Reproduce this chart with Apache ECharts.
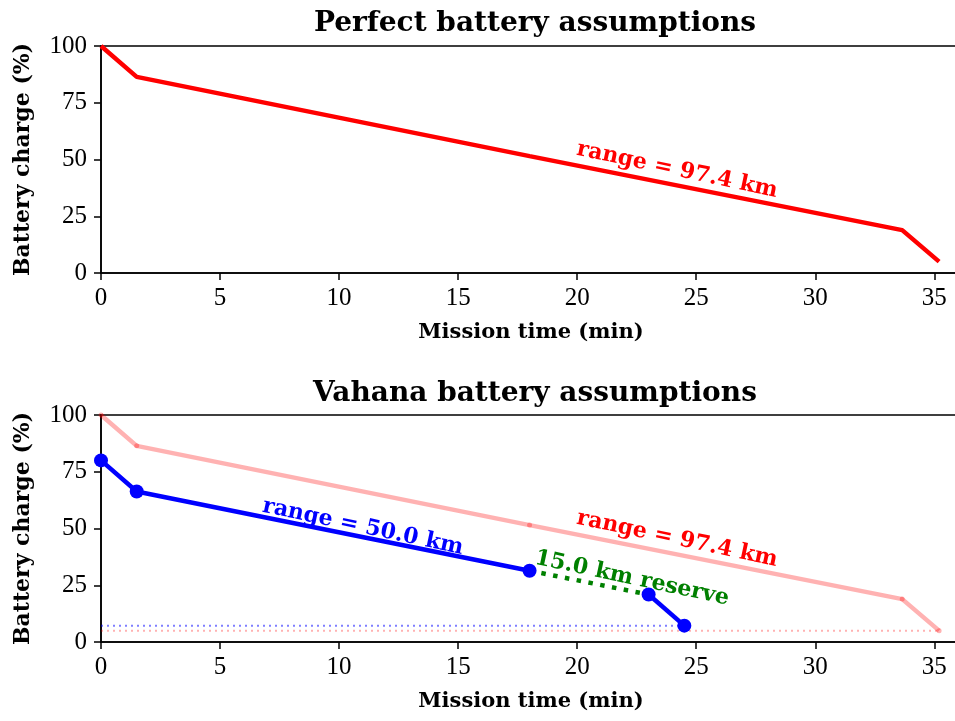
<!DOCTYPE html>
<html>
<head>
<meta charset="utf-8">
<script src="https://cdn.jsdelivr.net/npm/echarts@6/dist/echarts.min.js"></script>
<style>
  html, body { margin: 0; padding: 0; background: #fff; }
  #chart { width: 955px; height: 721px; }
</style>
</head>
<body>
<div id="chart"></div>
<script>
// Mission profile: time (min) vs battery charge (%)
const perfectTime   = [0, 1.5, 18.0, 33.65, 35.2];
const perfectCharge = [100, 86.4, 51.5, 18.9, 5.0];

const vahanaTime    = [0, 1.5, 18.0];
const vahanaCharge  = [80.0, 66.3, 31.4];
const reserveTime   = [18.0, 23.0];
const reserveCharge = [31.4, 20.9];
const landingTime   = [23.0, 24.5];
const landingCharge = [20.9, 7.2];

// Minimum-charge reference levels
const vahanaFloor  = 7.2;
const perfectFloor = 5.0;

const xTicks = [0, 5, 10, 15, 20, 25, 30, 35];
const yTicks = [0, 25, 50, 75, 100];

// Text annotations: [time, charge] anchor and text
const perfectRangeNote = { at: [24.2, 45.3], text: 'range = 97.4 km' };
const vahanaRangeNote  = { at: [11.0, 50.6], text: 'range = 50.0 km' };
const reserveNote      = { at: [22.3, 28.0], text: '15.0 km reserve' };

const zip = (xs, ys) => xs.map((x, i) => [x, ys[i]]);

const TICK_FONT = 'Liberation Serif';
const BOLD_FONT = 'DejaVu Serif';
const X_MAX = 36.12;
const AXIS_W = 1.5;

function xAxis(gridIndex) {
  return {
    type: 'value', gridIndex, min: 0, max: X_MAX, interval: 5,
    axisLine: { show: true, lineStyle: { color: '#000', width: AXIS_W } },
    axisTick: { show: true, length: 7, lineStyle: { color: '#000', width: AXIS_W },
      customValues: xTicks },
    axisLabel: { color: '#000', fontFamily: TICK_FONT, fontSize: 25, margin: 13,
      customValues: xTicks },
    splitLine: { show: false },
    name: 'Mission time (min)', nameLocation: 'middle', nameGap: 49,
    nameTextStyle: { color: '#000', fontFamily: BOLD_FONT, fontWeight: 'bold', fontSize: 21 }
  };
}
function yAxis(gridIndex) {
  return {
    type: 'value', gridIndex, min: 0, max: 100, interval: 25,
    axisLine: { show: true, lineStyle: { color: '#000', width: AXIS_W } },
    axisTick: { show: true, length: 7, lineStyle: { color: '#000', width: AXIS_W } },
    axisLabel: { color: '#000', fontFamily: TICK_FONT, fontSize: 25, margin: 14 },
    splitLine: { show: false },
    name: 'Battery charge (%)', nameLocation: 'middle', nameGap: 67,
    nameTextStyle: { color: '#000', fontFamily: BOLD_FONT, fontWeight: 'bold', fontSize: 22 }
  };
}

function note(n, color, xi, yi) {
  return {
    type: 'scatter', xAxisIndex: xi, yAxisIndex: yi, symbolSize: 0, silent: true,
    data: [n.at], z: 10,
    label: { show: true, position: 'inside', formatter: n.text, rotate: -12,
      color, fontFamily: BOLD_FONT, fontWeight: 'bold', fontSize: 22,
      textBorderWidth: 0, opacity: 1,
      align: 'center', verticalAlign: 'middle' }
  };
}

const gridBase = {
  left: 101, width: 860, height: 227, show: true, borderColor: '#000', borderWidth: 1.6,
  backgroundColor: 'transparent', containLabel: false, outerBoundsMode: 'none'
};

const chart = echarts.init(document.getElementById('chart'), null, { renderer: 'canvas' });
chart.setOption({
  animation: false,
  backgroundColor: '#fff',
  title: [
    { text: 'Perfect battery assumptions', left: 530, top: 5, textAlign: 'center',
      textStyle: { fontFamily: BOLD_FONT, fontWeight: 'bold', fontSize: 28, color: '#000' } },
    { text: 'Vahana battery assumptions', left: 530, top: 375, textAlign: 'center',
      textStyle: { fontFamily: BOLD_FONT, fontWeight: 'bold', fontSize: 28, color: '#000' } }
  ],
  grid: [
    Object.assign({ top: 46 }, gridBase),
    Object.assign({ top: 415 }, gridBase)
  ],
  xAxis: [xAxis(0), xAxis(1)],
  yAxis: [yAxis(0), yAxis(1)],
  series: [
    // Top panel
    { type: 'line', xAxisIndex: 0, yAxisIndex: 0, data: zip(perfectTime, perfectCharge),
      showSymbol: false, lineStyle: { color: '#ff0000', width: 4.5 }, silent: true },
    note(perfectRangeNote, '#ff0000', 0, 0),

    // Bottom panel: reference levels
    { type: 'line', xAxisIndex: 1, yAxisIndex: 1,
      data: [[0, perfectFloor], [perfectTime[perfectTime.length - 1], perfectFloor]],
      showSymbol: false, silent: true,
      lineStyle: { color: 'rgba(255,0,0,0.3)', width: 2, type: [2, 4] } },
    { type: 'line', xAxisIndex: 1, yAxisIndex: 1,
      data: [[0, vahanaFloor], [landingTime[landingTime.length - 1], vahanaFloor]],
      showSymbol: false, silent: true,
      lineStyle: { color: 'rgba(0,0,255,0.5)', width: 2, type: [2, 4] } },
    // Perfect profile, faded
    { type: 'line', xAxisIndex: 1, yAxisIndex: 1, data: zip(perfectTime, perfectCharge),
      symbol: 'circle', symbolSize: 5, showSymbol: true, silent: true,
      itemStyle: { color: 'rgba(255,0,0,0.3)' },
      lineStyle: { color: 'rgba(255,0,0,0.3)', width: 4.5 } },
    // Vahana profile
    { type: 'line', xAxisIndex: 1, yAxisIndex: 1, data: zip(vahanaTime, vahanaCharge),
      symbol: 'circle', symbolSize: 14, showSymbol: true, silent: true,
      itemStyle: { color: '#0000ff' }, lineStyle: { color: '#0000ff', width: 4.5 } },
    { type: 'line', xAxisIndex: 1, yAxisIndex: 1, data: zip(reserveTime, reserveCharge),
      showSymbol: false, silent: true,
      lineStyle: { color: '#008000', width: 4.5, type: [4.5, 7.5] } },
    { type: 'line', xAxisIndex: 1, yAxisIndex: 1, data: zip(landingTime, landingCharge),
      symbol: 'circle', symbolSize: 14, showSymbol: true, silent: true,
      itemStyle: { color: '#0000ff' }, lineStyle: { color: '#0000ff', width: 4.5 } },
    note(vahanaRangeNote, '#0000ff', 1, 1),
    note(perfectRangeNote, '#ff0000', 1, 1),
    note(reserveNote, '#008000', 1, 1)
  ]
});
</script>
</body>
</html>
